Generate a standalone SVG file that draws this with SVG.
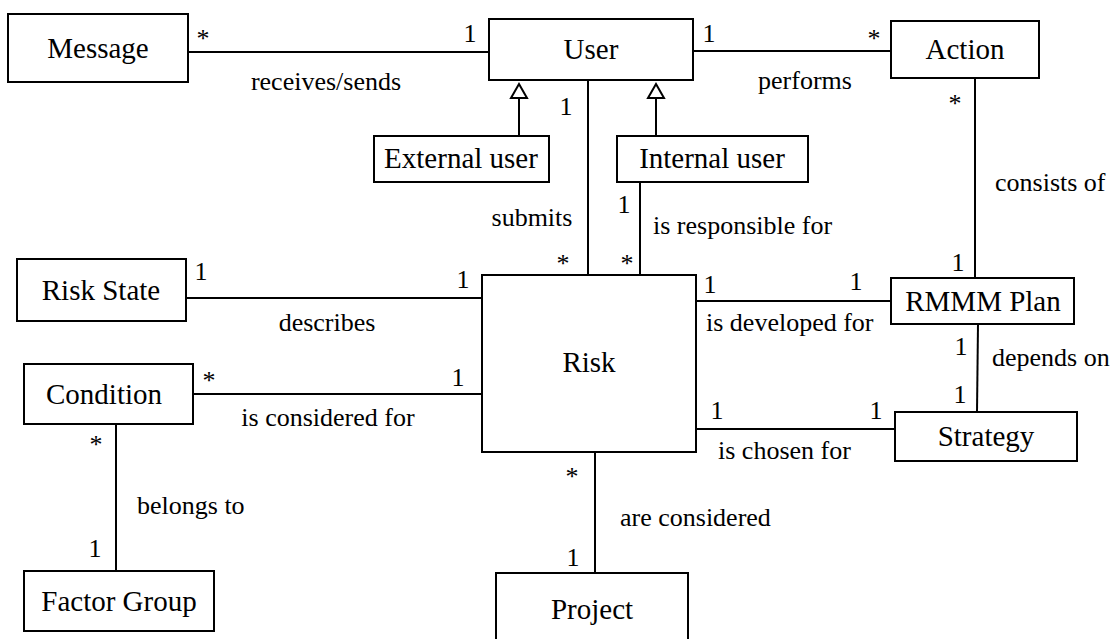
<svg xmlns="http://www.w3.org/2000/svg" width="1117" height="639" viewBox="0 0 1117 639">
<style>
.box{fill:#fff;stroke:#000;stroke-width:2}
.ln{fill:none;stroke:#000;stroke-width:2}
.tri{fill:#fff;stroke:#000;stroke-width:2}
text{font-family:"Liberation Serif","Times New Roman",serif;font-size:26px;fill:#000}
.n{font-size:29px;text-anchor:middle}
.c{text-anchor:middle}
</style>
<rect width="1117" height="639" fill="#fff"/>
<g id="connectors" font-family="Liberation Serif, Times New Roman, serif">
<path class="ln" d="M188 52H489"/>
<path class="ln" d="M693 51H891"/>
<path class="ln" d="M975 78V278"/>
<path class="ln" d="M588 80V275"/>
<path class="ln" d="M640 182V275"/>
<path class="ln" d="M186 298H482"/>
<path class="ln" d="M193 394H482"/>
<path class="ln" d="M696 301H891"/>
<path class="ln" d="M978 324L977 412"/>
<path class="ln" d="M696 429H895"/>
<path class="ln" d="M116 424V571"/>
<path class="ln" d="M595 452V573"/>
<path class="ln" d="M519 136V98"/>
<path class="tri" d="M519 84L527 98H511Z"/>
<path class="ln" d="M656 136V98"/>
<path class="tri" d="M656 84L664 98H648Z"/>
<text x="326" y="90" class="c">receives/sends</text>
<text x="805" y="89" class="c">performs</text>
<text x="532" y="226" class="c">submits</text>
<text x="653" y="234">is responsible for</text>
<text x="995" y="191">consists of</text>
<text x="327" y="331" class="c">describes</text>
<text x="706" y="331">is developed for</text>
<text x="328" y="426" class="c">is considered for</text>
<text x="992" y="366">depends on</text>
<text x="718" y="459">is chosen for</text>
<text x="137" y="514">belongs to</text>
<text x="620" y="526">are considered</text>
<text x="203" y="47" class="c">*</text>
<text x="470" y="42" class="c">1</text>
<text x="709" y="42" class="c">1</text>
<text x="874" y="47" class="c">*</text>
<text x="955" y="112" class="c">*</text>
<text x="566" y="115" class="c">1</text>
<text x="563" y="272" class="c">*</text>
<text x="624" y="213" class="c">1</text>
<text x="627" y="272" class="c">*</text>
<text x="958" y="271" class="c">1</text>
<text x="201" y="280" class="c">1</text>
<text x="463" y="288" class="c">1</text>
<text x="710" y="293" class="c">1</text>
<text x="856" y="290" class="c">1</text>
<text x="961" y="355" class="c">1</text>
<text x="960" y="403" class="c">1</text>
<text x="209" y="389" class="c">*</text>
<text x="458" y="386" class="c">1</text>
<text x="717" y="419" class="c">1</text>
<text x="876" y="419" class="c">1</text>
<text x="96" y="453" class="c">*</text>
<text x="95" y="557" class="c">1</text>
<text x="572" y="485" class="c">*</text>
<text x="573" y="566" class="c">1</text>
</g>
<g id="message"><rect class="box" x="8" y="14" width="180" height="68"/><text x="98" y="58" class="n">Message</text></g>
<g id="user"><rect class="box" x="489" y="19" width="204" height="61"/><text x="591" y="59" class="n">User</text></g>
<g id="action"><rect class="box" x="891" y="21" width="148" height="57"/><text x="965" y="59" class="n">Action</text></g>
<g id="external-user"><rect class="box" x="374" y="136" width="175" height="46"/><text x="461" y="168" class="n">External user</text></g>
<g id="internal-user"><rect class="box" x="617" y="136" width="191" height="46"/><text x="712" y="168" class="n">Internal user</text></g>
<g id="risk-state"><rect class="box" x="17" y="259" width="169" height="62"/><text x="101" y="300" class="n">Risk State</text></g>
<g id="risk"><rect class="box" x="482" y="275" width="214" height="177"/><text x="589" y="372" class="n">Risk</text></g>
<g id="rmmm-plan"><rect class="box" x="891" y="278" width="183" height="46"/><text x="983" y="311" class="n">RMMM Plan</text></g>
<g id="condition"><rect class="box" x="24" y="364" width="169" height="60"/><text x="104" y="404" class="n">Condition</text></g>
<g id="strategy"><rect class="box" x="895" y="412" width="182" height="49"/><text x="986" y="446" class="n">Strategy</text></g>
<g id="factor-group"><rect class="box" x="24" y="571" width="190" height="60"/><text x="119" y="611" class="n">Factor Group</text></g>
<g id="project"><rect class="box" x="496" y="573" width="192" height="80"/><text x="592" y="619" class="n">Project</text></g>
</svg>
